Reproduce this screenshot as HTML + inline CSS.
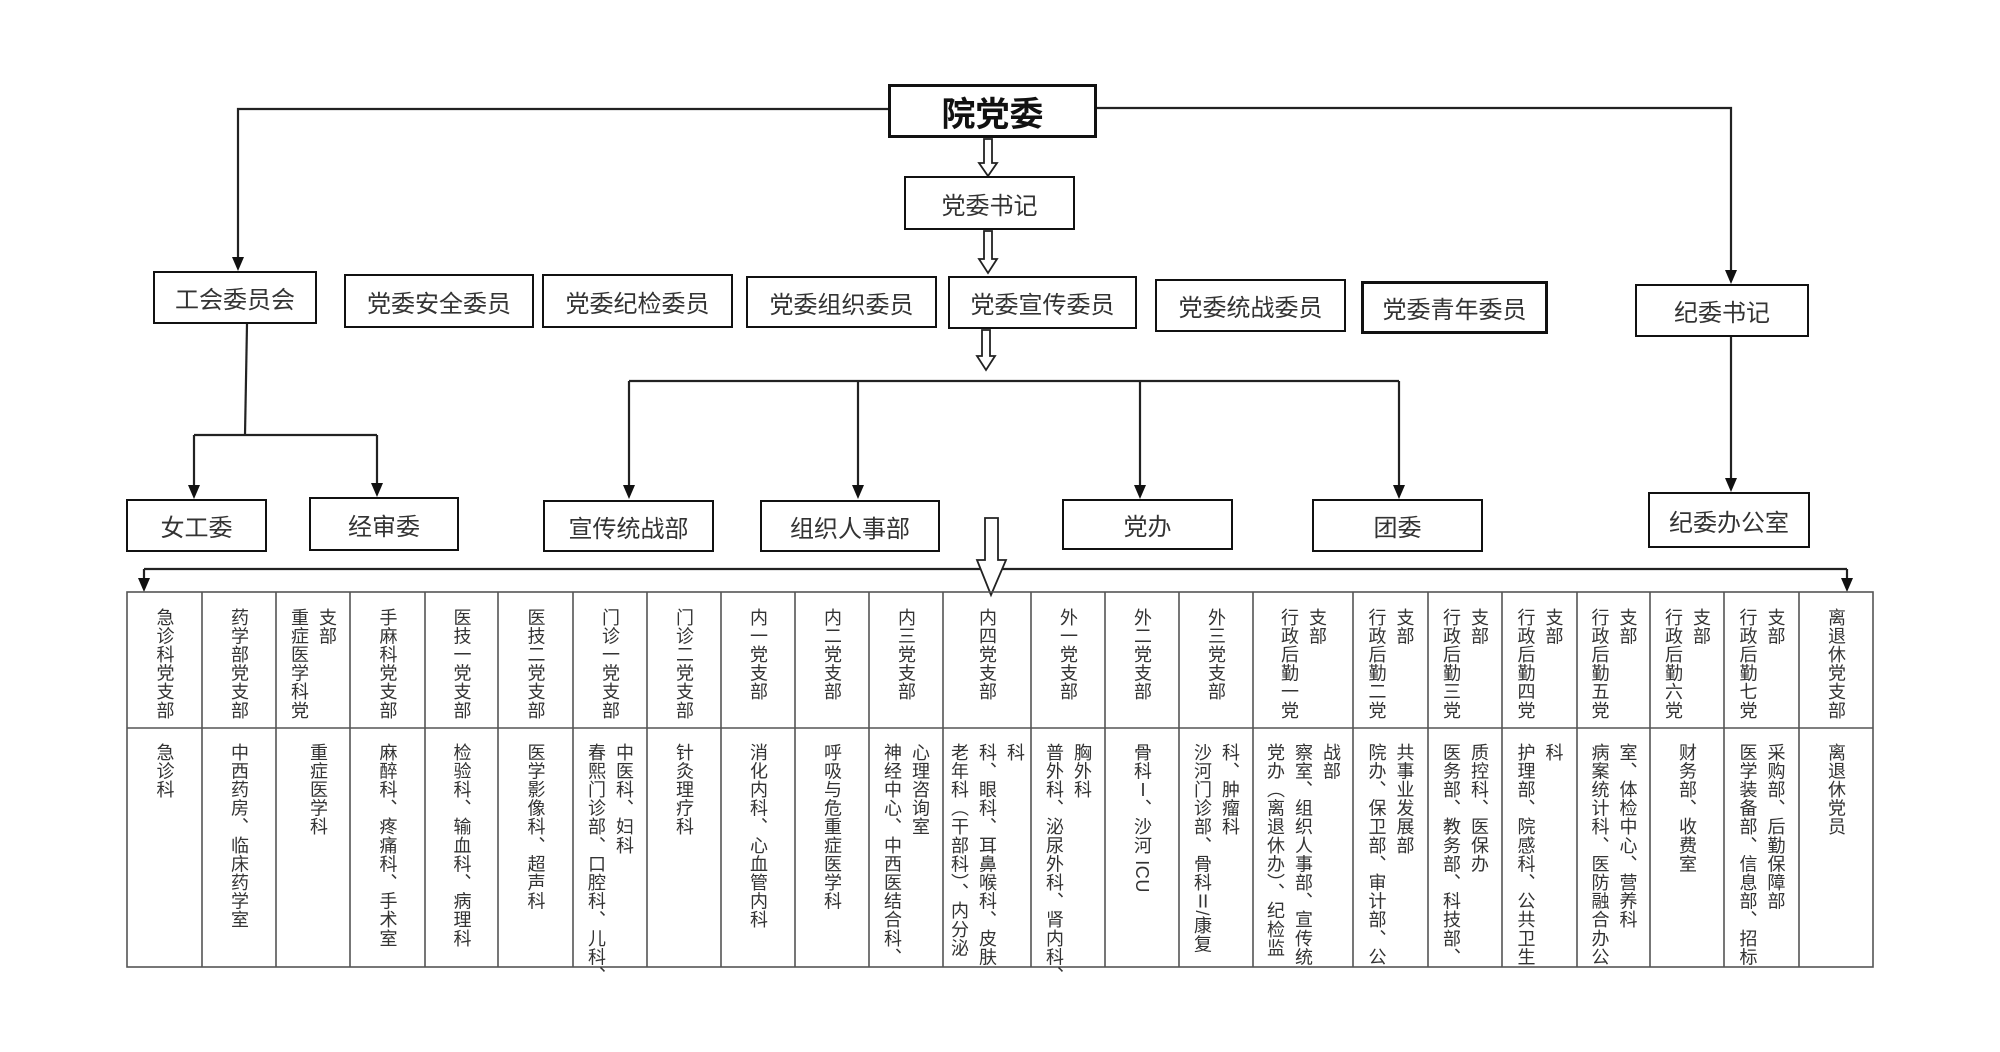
<!DOCTYPE html>
<html><head><meta charset="utf-8">
<style>
html,body{margin:0;padding:0;background:#fff;}
#c{position:relative;width:2000px;height:1052px;overflow:hidden;font-family:"Liberation Sans","Noto Sans CJK SC",sans-serif;color:#333;}
.b{position:absolute;box-sizing:border-box;border:2px solid #111;display:flex;align-items:center;justify-content:center;font-size:24px;color:#333;background:#fff;}
.cell{position:absolute;display:flex;flex-direction:row;justify-content:center;align-items:flex-start;gap:10px;}
.v{writing-mode:vertical-rl;font-size:18px;line-height:18px;letter-spacing:0.6px;color:#333;white-space:nowrap;}
svg{position:absolute;left:0;top:0;}
</style></head><body><div id="c">
<svg width="2000" height="1052" viewBox="0 0 2000 1052">
<g stroke="#222" stroke-width="2.2" fill="none">
<polyline points="888,109 238,109 238,258"/>
<polyline points="1097,108 1731,108 1731,271"/>
<line x1="1731" y1="337" x2="1731" y2="479"/>
<line x1="629" y1="381" x2="1399" y2="381"/>
<line x1="629" y1="381" x2="629" y2="486"/>
<line x1="858" y1="381" x2="858" y2="486"/>
<line x1="1140" y1="381" x2="1140" y2="486"/>
<line x1="1399" y1="381" x2="1399" y2="486"/>
<line x1="247" y1="324" x2="245" y2="435"/>
<line x1="194" y1="435" x2="377" y2="435"/>
<line x1="194" y1="435" x2="194" y2="486"/>
<line x1="377" y1="435" x2="377" y2="484"/>
<line x1="144" y1="569" x2="1847" y2="569"/>
<line x1="144" y1="569" x2="144" y2="580"/>
<line x1="1847" y1="569" x2="1847" y2="580"/>
</g>
<g fill="#111">
<polygon points="232,257 244,257 238,271"/>
<polygon points="1725,270 1737,270 1731,284"/>
<polygon points="1725,478 1737,478 1731,492"/>
<polygon points="623,485 635,485 629,499"/>
<polygon points="852,485 864,485 858,499"/>
<polygon points="1134,485 1146,485 1140,499"/>
<polygon points="1393,485 1405,485 1399,499"/>
<polygon points="188,485 200,485 194,499"/>
<polygon points="371,483 383,483 377,497"/>
<polygon points="138,578 150,578 144,592"/>
<polygon points="1841,578 1853,578 1847,592"/>
</g>
<g fill="#fff" stroke="#222" stroke-width="1.8">
<polygon points="984,139 992,139 992,163 997,163 988,176 979,163 984,163"/>
<polygon points="984,231 992,231 992,259 997,259 988,273 979,259 984,259"/>
<polygon points="982,330 990,330 990,356 995,356 986,370 977,356 982,356"/>
<polygon points="985,518 998,518 998,560 1006,560 991,595 977,560 985,560"/>
</g>
<g stroke="#555" stroke-width="1.6" fill="none">
<rect x="127" y="592" width="1746" height="375"/>
<line x1="127" y1="728" x2="1873" y2="728"/>
<path d="M202,592V967M276,592V967M350,592V967M425,592V967M498,592V967M573,592V967M647,592V967M721,592V967M795,592V967M869,592V967M943,592V967M1031,592V967M1105,592V967M1179,592V967M1253,592V967M1353,592V967M1428,592V967M1502,592V967M1577,592V967M1650,592V967M1724,592V967M1799,592V967"/>
</g>
</svg>

<div class="b" style="left:888px;top:84px;width:209px;height:54px;font-size:34px;font-weight:bold;color:#111;border-width:3px;">院党委</div>
<div class="b" style="left:904px;top:176px;width:171px;height:54px;">党委书记</div>
<div class="b" style="left:153px;top:271px;width:164px;height:53px;">工会委员会</div>
<div class="b" style="left:344px;top:274px;width:190px;height:54px;">党委安全委员</div>
<div class="b" style="left:542px;top:274px;width:191px;height:54px;">党委纪检委员</div>
<div class="b" style="left:746px;top:276px;width:191px;height:52px;">党委组织委员</div>
<div class="b" style="left:948px;top:276px;width:189px;height:53px;">党委宣传委员</div>
<div class="b" style="left:1155px;top:279px;width:191px;height:53px;">党委统战委员</div>
<div class="b" style="left:1361px;top:281px;width:187px;height:53px;border-width:3px;">党委青年委员</div>
<div class="b" style="left:1635px;top:284px;width:174px;height:53px;">纪委书记</div>
<div class="b" style="left:126px;top:499px;width:141px;height:53px;">女工委</div>
<div class="b" style="left:309px;top:497px;width:150px;height:54px;">经审委</div>
<div class="b" style="left:543px;top:500px;width:171px;height:52px;">宣传统战部</div>
<div class="b" style="left:760px;top:500px;width:180px;height:52px;">组织人事部</div>
<div class="b" style="left:1062px;top:499px;width:171px;height:51px;">党办</div>
<div class="b" style="left:1312px;top:499px;width:171px;height:53px;">团委</div>
<div class="b" style="left:1648px;top:492px;width:162px;height:56px;">纪委办公室</div>

<div class="cell" style="left:127px;top:608px;width:75px;"><div class="v">急诊科党支部</div></div>
<div class="cell" style="left:202px;top:608px;width:74px;"><div class="v">药学部党支部</div></div>
<div class="cell" style="left:276px;top:608px;width:74px;"><div class="v">重症医学科党</div><div class="v">支部</div></div>
<div class="cell" style="left:350px;top:608px;width:75px;"><div class="v">手麻科党支部</div></div>
<div class="cell" style="left:425px;top:608px;width:73px;"><div class="v">医技一党支部</div></div>
<div class="cell" style="left:498px;top:608px;width:75px;"><div class="v">医技二党支部</div></div>
<div class="cell" style="left:573px;top:608px;width:74px;"><div class="v">门诊一党支部</div></div>
<div class="cell" style="left:647px;top:608px;width:74px;"><div class="v">门诊二党支部</div></div>
<div class="cell" style="left:721px;top:608px;width:74px;"><div class="v">内一党支部</div></div>
<div class="cell" style="left:795px;top:608px;width:74px;"><div class="v">内二党支部</div></div>
<div class="cell" style="left:869px;top:608px;width:74px;"><div class="v">内三党支部</div></div>
<div class="cell" style="left:943px;top:608px;width:88px;"><div class="v">内四党支部</div></div>
<div class="cell" style="left:1031px;top:608px;width:74px;"><div class="v">外一党支部</div></div>
<div class="cell" style="left:1105px;top:608px;width:74px;"><div class="v">外二党支部</div></div>
<div class="cell" style="left:1179px;top:608px;width:74px;"><div class="v">外三党支部</div></div>
<div class="cell" style="left:1253px;top:608px;width:100px;"><div class="v">行政后勤一党</div><div class="v">支部</div></div>
<div class="cell" style="left:1353px;top:608px;width:75px;"><div class="v">行政后勤二党</div><div class="v">支部</div></div>
<div class="cell" style="left:1428px;top:608px;width:74px;"><div class="v">行政后勤三党</div><div class="v">支部</div></div>
<div class="cell" style="left:1502px;top:608px;width:75px;"><div class="v">行政后勤四党</div><div class="v">支部</div></div>
<div class="cell" style="left:1577px;top:608px;width:73px;"><div class="v">行政后勤五党</div><div class="v">支部</div></div>
<div class="cell" style="left:1650px;top:608px;width:74px;"><div class="v">行政后勤六党</div><div class="v">支部</div></div>
<div class="cell" style="left:1724px;top:608px;width:75px;"><div class="v">行政后勤七党</div><div class="v">支部</div></div>
<div class="cell" style="left:1799px;top:608px;width:74px;"><div class="v">离退休党支部</div></div>

<div class="cell" style="left:127px;top:743px;width:75px;"><div class="v">急诊科</div></div>
<div class="cell" style="left:202px;top:743px;width:74px;"><div class="v">中西药房、临床药学室</div></div>
<div class="cell" style="left:276px;top:743px;width:84px;"><div class="v">重症医学科</div></div>
<div class="cell" style="left:350px;top:743px;width:75px;"><div class="v">麻醉科、疼痛科、手术室</div></div>
<div class="cell" style="left:425px;top:743px;width:73px;"><div class="v">检验科、输血科、病理科</div></div>
<div class="cell" style="left:498px;top:743px;width:75px;"><div class="v">医学影像科、超声科</div></div>
<div class="cell" style="left:573px;top:743px;width:74px;"><div class="v">春熙门诊部、口腔科、儿科、</div><div class="v">中医科、妇科</div></div>
<div class="cell" style="left:647px;top:743px;width:74px;"><div class="v">针灸理疗科</div></div>
<div class="cell" style="left:721px;top:743px;width:74px;"><div class="v">消化内科、心血管内科</div></div>
<div class="cell" style="left:795px;top:743px;width:74px;"><div class="v">呼吸与危重症医学科</div></div>
<div class="cell" style="left:869px;top:743px;width:74px;"><div class="v">神经中心、中西医结合科、</div><div class="v">心理咨询室</div></div>
<div class="cell" style="left:943px;top:743px;width:88px;"><div class="v">老年科（干部科）、内分泌</div><div class="v">科、眼科、耳鼻喉科、皮肤</div><div class="v">科</div></div>
<div class="cell" style="left:1031px;top:743px;width:74px;"><div class="v">普外科、泌尿外科、肾内科、</div><div class="v">胸外科</div></div>
<div class="cell" style="left:1105px;top:743px;width:74px;"><div class="v">骨科Ⅰ、沙河 ICU</div></div>
<div class="cell" style="left:1179px;top:743px;width:74px;"><div class="v">沙河门诊部、骨科Ⅱ/康复</div><div class="v">科、肿瘤科</div></div>
<div class="cell" style="left:1253px;top:743px;width:100px;"><div class="v">党办（离退休办）、纪检监</div><div class="v">察室、组织人事部、宣传统</div><div class="v">战部</div></div>
<div class="cell" style="left:1353px;top:743px;width:75px;"><div class="v">院办、保卫部、审计部、公</div><div class="v">共事业发展部</div></div>
<div class="cell" style="left:1428px;top:743px;width:74px;"><div class="v">医务部、教务部、科技部、</div><div class="v">质控科、医保办</div></div>
<div class="cell" style="left:1502px;top:743px;width:75px;"><div class="v">护理部、院感科、公共卫生</div><div class="v">科</div></div>
<div class="cell" style="left:1577px;top:743px;width:73px;"><div class="v">病案统计科、医防融合办公</div><div class="v">室、体检中心、营养科</div></div>
<div class="cell" style="left:1650px;top:743px;width:74px;"><div class="v">财务部、收费室</div></div>
<div class="cell" style="left:1724px;top:743px;width:75px;"><div class="v">医学装备部、信息部、招标</div><div class="v">采购部、后勤保障部</div></div>
<div class="cell" style="left:1799px;top:743px;width:74px;"><div class="v">离退休党员</div></div>
</div></body></html>
